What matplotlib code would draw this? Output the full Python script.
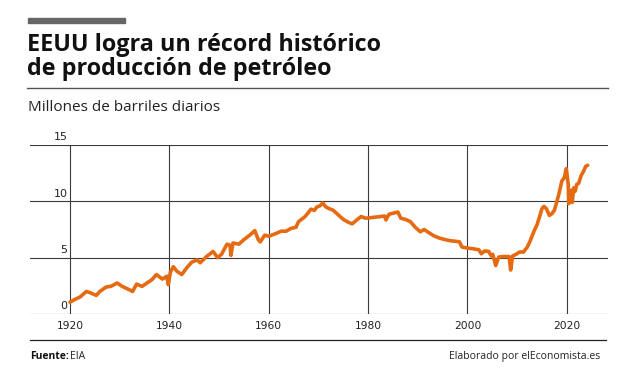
import matplotlib
matplotlib.use('Agg')
import matplotlib.pyplot as plt
from matplotlib.lines import Line2D

plt.rcParams['font.family'] = ['Open Sans', 'DejaVu Sans']

# US crude oil production, million barrels per day
years = [1920.0, 1921.0, 1922.0, 1923.3, 1924.0, 1925.3, 1926.0, 1927.3, 1928.2, 1929.5,
         1930.5, 1931.5, 1932.6, 1933.4, 1934.5, 1935.5, 1936.5, 1937.4, 1938.6, 1939.5,
         1939.8, 1940.2, 1940.8, 1941.5, 1942.5, 1943.5, 1944.5, 1945.6, 1946.2, 1947.5,
         1948.8, 1949.7, 1950.5, 1951.6, 1952.2, 1952.4, 1952.8, 1954.0, 1955.0, 1956.2,
         1957.2, 1957.9, 1958.3, 1959.2, 1960.0, 1961.2, 1962.5, 1963.5, 1964.5, 1965.5,
         1966.0, 1967.2, 1967.8, 1968.5, 1969.2, 1969.7, 1970.3, 1970.9, 1971.5, 1972.2,
         1973.0, 1974.0, 1975.0, 1976.0, 1976.8, 1977.6, 1978.6, 1979.5, 1980.5, 1981.5,
         1982.5, 1983.3, 1983.6, 1984.2, 1985.5, 1986.0, 1986.6, 1987.5, 1988.5, 1989.5,
         1990.5, 1991.3, 1992.3, 1993.2, 1994.3, 1995.5, 1996.6, 1997.7, 1998.4, 1998.9,
         2000.0, 2001.0, 2002.3, 2002.8, 2003.5, 2004.3, 2004.8, 2005.1, 2005.7, 2006.3,
         2007.0, 2008.4, 2008.7, 2009.1, 2009.8, 2010.5, 2011.3, 2011.6, 2012.0, 2012.5,
         2013.0, 2013.5, 2014.0, 2014.5, 2015.0, 2015.4, 2015.9, 2016.5, 2017.0, 2017.5,
         2017.9, 2018.5, 2019.0, 2019.5, 2019.9, 2020.3, 2020.4, 2020.6, 2020.8, 2021.0,
         2021.1, 2021.4, 2021.7, 2022.0, 2022.4, 2022.9, 2023.3, 2023.8, 2024.2]
production = [1.05, 1.3, 1.5, 2.0, 1.9, 1.65, 2.0, 2.4, 2.45, 2.75,
              2.45, 2.25, 2.0, 2.65, 2.45, 2.75, 3.05, 3.5, 3.1, 3.35,
              2.6, 3.7, 4.2, 3.8, 3.5, 4.1, 4.6, 4.8, 4.55, 5.1,
              5.55, 5.0, 5.3, 6.2, 6.1, 5.2, 6.3, 6.2, 6.6, 7.0,
              7.4, 6.6, 6.4, 7.0, 6.9, 7.1, 7.35, 7.35, 7.6, 7.7,
              8.2, 8.6, 8.9, 9.3, 9.2, 9.5, 9.6, 9.85, 9.5, 9.35,
              9.2, 8.8, 8.4, 8.15, 8.0, 8.3, 8.65, 8.5, 8.55, 8.6,
              8.65, 8.7, 8.35, 8.85, 9.0, 9.05, 8.5, 8.4, 8.2, 7.7,
              7.3, 7.5, 7.2, 6.95, 6.75, 6.6, 6.5, 6.45, 6.4, 5.95,
              5.85, 5.8, 5.7, 5.35, 5.6, 5.55, 5.15, 5.3, 4.3, 5.05,
              5.1, 5.1, 3.9, 5.15, 5.3, 5.5, 5.5, 5.7, 5.9, 6.35,
              6.9, 7.45, 7.9, 8.6, 9.35, 9.55, 9.35, 8.75, 8.9, 9.2,
              9.8, 10.8, 11.8, 12.1, 12.9, 11.5, 9.8, 10.9, 10.0, 11.0,
              9.9, 11.2, 10.9, 11.5, 11.6, 12.3, 12.6, 13.1, 13.2]

y_ticks = [0, 5, 10, 15]
x_ticks = [1920, 1940, 1960, 1980, 2000, 2020]

W, H = 640, 374
fig = plt.figure(figsize=(6.4, 3.74), dpi=100)
fig.patch.set_facecolor('white')

# axes placed in pixel coords: x 30..608, y(0)=314, y(15)=145
ax = fig.add_axes([30 / W, 1 - 314 / H, (608 - 30) / W, (314 - 145) / H])
ax.set_xlim(1911.95, 2028.3)
ax.set_ylim(0, 15)
for s in ax.spines.values():
    s.set_visible(False)
ax.set_xticks([])
ax.set_yticks([])
ax.patch.set_alpha(0)

grid_c = '#3a3a3a'
for v in y_ticks:
    ax.axhline(v, color=grid_c, lw=0.8, zorder=1)
    ax.text(1919.5, v + 0.25, str(v), ha='right', va='bottom', fontsize=8,
            family='DejaVu Sans', color='#222222')
for x in x_ticks:
    ax.plot([x, x], [0, 15], color=grid_c, lw=0.8, zorder=1)
    ax.text(x, -0.6, str(x), ha='center', va='top', fontsize=7.7,
            family='DejaVu Sans', color='#222222')

ax.plot(years, production, color='#E56A12', lw=2.6, solid_joinstyle='round',
        solid_capstyle='round', zorder=3)

# header
fig.patches.append(plt.Rectangle((28 / W, 1 - 23 / H), 97 / W, 5 / H,
                                 transform=fig.transFigure, color='#666666'))
fig.text(27 / W, 1 - 51 / H, 'EEUU logra un récord histórico', fontsize=16.8,
         fontweight='bold', color='#111111', va='baseline', ha='left')
fig.text(27 / W, 1 - 75 / H, 'de producción de petróleo', fontsize=16.8,
         fontweight='bold', color='#111111', va='baseline', ha='left')
fig.lines.append(Line2D([27 / W, 608 / W], [1 - 88 / H, 1 - 88 / H],
                        transform=fig.transFigure, color='#555555', lw=1))
fig.text(28 / W, 1 - 111 / H, 'Millones de barriles diarios', fontsize=11,
         color='#222222', va='baseline', ha='left')

# footer
fig.lines.append(Line2D([30 / W, 606 / W], [1 - 340 / H, 1 - 340 / H],
                        transform=fig.transFigure, color='#222222', lw=0.9))
t = fig.text(30 / W, 1 - 359 / H, 'Fuente:', fontsize=7.5, fontweight='bold',
             color='#111111', va='baseline', ha='left')
fig.text(70 / W, 1 - 359 / H, 'EIA', fontsize=7.5, color='#222222',
         va='baseline', ha='left')
fig.text(600 / W, 1 - 359 / H, 'Elaborado por elEconomista.es', fontsize=7.5,
         color='#222222', va='baseline', ha='right')

fig.savefig('out.png', dpi=100, facecolor='white')
